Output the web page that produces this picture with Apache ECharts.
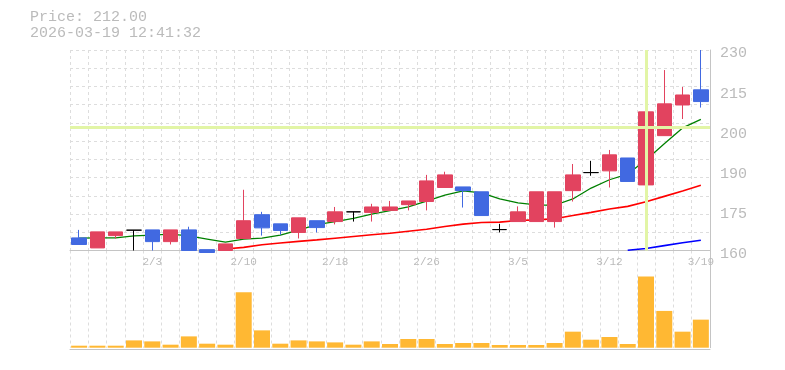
<!DOCTYPE html>
<html>
<head>
<meta charset="utf-8">
<script src="https://cdn.jsdelivr.net/npm/echarts@6/dist/echarts.min.js"></script>
<style>html,body{margin:0;padding:0;background:#fff;}#c{width:785px;height:370px;}</style>
</head>
<body>
<div id="c"></div>
<script>
const categories = ['1/28','1/29','1/30','2/2','2/3','2/4','2/5','2/6','2/9','2/10','2/12','2/13','2/16','2/17','2/18','2/19','2/20','2/24','2/25','2/26','2/27','3/2','3/3','3/4','3/5','3/6','3/9','3/10','3/11','3/12','3/13','3/16','3/17','3/18','3/19'];
const openP  = [164.4,160.9,165.2,167.1,167.2,163.1,167.2,160.3,160.0,164.2,172.5,169.3,166.3,170.4,170.1,173.5,173.3,174.0,176.0,177.1,182.0,182.2,180.5,167.3,170.1,170.1,170.1,180.9,187.2,187.8,192.3,182.9,200.1,210.8,216.1];
const closeP = [162.1,166.5,166.5,167.1,163.1,167.2,160.0,159.3,162.3,170.4,167.9,167.0,171.4,168.0,173.5,173.5,175.2,175.2,177.3,184.3,186.4,180.9,172.2,167.3,173.5,180.5,180.5,186.4,187.2,193.4,184.1,208.4,211.2,214.3,212.0];
const lowP   = [162.1,160.9,164.2,160.0,160.0,162.1,160.0,159.3,160.0,164.2,165.2,165.5,164.2,166.3,169.1,170.1,170.1,174.0,174.0,174.0,182.0,175.0,172.2,166.3,170.1,170.1,168.0,177.1,186.1,182.0,184.1,182.9,200.1,205.9,209.9];
const highP  = [167.2,166.5,166.5,167.1,167.2,167.2,168.3,160.3,162.3,181.2,173.5,169.3,171.4,170.4,175.2,173.5,176.3,177.3,177.3,186.4,187.5,182.2,180.5,169.3,175.4,180.5,180.5,190.2,191.3,195.1,192.3,216.1,223.0,217.1,230.0];
const maShort = [164.3,164.4,164.4,165.1,165.4,165.7,165.1,164.0,162.9,164.0,164.3,165.4,167.1,169.0,170.1,171.2,172.7,173.9,175.2,177.2,179.3,180.8,180.1,178.0,176.6,175.9,175.8,178.0,181.8,184.7,186.7,191.6,197.3,202.8,205.8];
const maMid = ['-','-','-','-','-','-','-','-',160.5,161.1,162.0,162.6,163.2,163.7,164.3,164.9,165.5,166.0,166.7,167.4,168.4,169.2,169.8,169.9,170.5,170.7,171.1,172.2,173.3,174.5,175.4,177.0,178.9,180.8,182.8];
const maLong = ['-','-','-','-','-','-','-','-','-','-','-','-','-','-','-','-','-','-','-','-','-','-','-','-','-','-','-','-','-','-',160.1,160.7,161.7,162.7,163.6];
const volume = [20,20,20,73,63,30,113,40,30,553,173,40,73,63,53,30,63,37,87,87,37,47,47,27,27,27,47,160,80,107,37,710,367,160,280];
const xTickLabels = ['2/3','2/10','2/18','2/26','3/5','3/12','3/19'];
const yTickLabels = ['160','175','190','200','215','230'];
const crossX = '3/16';
const crossY = 203.1;
const stamp = '2026-03-19 12:41:32';

const FONT = '"Liberation Mono", "DejaVu Sans Mono", monospace';
const GRAY = '#bbbbbb';
const GRIDC = '#dddddd';
const AXISC = '#c4c4c4';

const candleData = categories.map((c, i) => [openP[i], closeP[i], lowP[i], highP[i]]);

const chart = echarts.init(document.getElementById('c'), null, {renderer: 'canvas'});
chart.setOption({
  animation: false,
  backgroundColor: '#ffffff',
  title: {
    text: 'Price: ' + closeP[closeP.length - 1].toFixed(2) + '\n' + stamp,
    left: 30, top: 9, padding: 0,
    textStyle: {fontFamily: FONT, fontSize: 15, fontWeight: 'normal', color: GRAY, lineHeight: 16}
  },
  grid: [
    {left: 70, right: 75, top: 50, height: 200.5},
    {left: 70, right: 75, top: 250.5, height: 97.2}
  ],
  xAxis: [
    {type: 'category', gridIndex: 0, data: categories, boundaryGap: true,
     axisLine: {show: true, onZero: false, lineStyle: {color: AXISC, width: 1}},
     axisTick: {show: false, interval: 0}, axisLabel: {show: false, interval: 0},
     splitLine: {show: true, interval: 0, lineStyle: {color: GRIDC, type: [3, 3], width: 1}}},
    {type: 'category', gridIndex: 1, data: categories, boundaryGap: true, position: 'top',
     axisLine: {show: false, onZero: false}, axisTick: {show: false, interval: 0},
     axisLabel: {show: true, inside: true, margin: 6, fontFamily: FONT, fontSize: 11, color: GRAY,
                 interval: (i, v) => xTickLabels.indexOf(v) >= 0},
     splitLine: {show: true, interval: 0, lineStyle: {color: GRIDC, type: [3, 3], width: 1}}},
    {type: 'category', gridIndex: 1, data: categories, boundaryGap: true, position: 'bottom', offset: 2,
     axisLine: {show: true, onZero: false, lineStyle: {color: AXISC, width: 1}},
     axisTick: {show: false}, axisLabel: {show: false}, splitLine: {show: false}}
  ],
  yAxis: [
    {type: 'value', gridIndex: 0, min: 160, max: 230, position: 'right', scale: true,
     axisLine: {show: true, lineStyle: {color: AXISC, width: 1}}, axisTick: {show: false},
     axisLabel: {show: false}, splitLine: {show: false}},
    {type: 'value', gridIndex: 0, min: 0, max: 5, interval: 1, position: 'right',
     axisLine: {show: false}, axisTick: {show: false}, splitLine: {show: false},
     axisLabel: {show: true, margin: 10, fontFamily: FONT, fontSize: 15, color: GRAY,
                 verticalAlign: 'top', lineHeight: 7,
                 formatter: v => yTickLabels[Math.round(v)]}},
    {type: 'value', gridIndex: 0, min: 0, max: 11, interval: 1, position: 'left',
     axisLine: {show: false}, axisTick: {show: false}, axisLabel: {show: false},
     splitLine: {show: true, lineStyle: {color: GRIDC, type: [3, 3], width: 1}}},
    {type: 'value', gridIndex: 1, min: 0, max: 970, position: 'right',
     axisLine: {show: true, lineStyle: {color: AXISC, width: 1}}, axisTick: {show: false},
     axisLabel: {show: false}, splitLine: {show: false}}
  ],
  series: [
    {type: 'line', xAxisIndex: 0, yAxisIndex: 0, data: [], z: 1, silent: true,
     markLine: {silent: true, symbol: 'none', animation: false, label: {show: false},
                lineStyle: {color: '#e2f5a6', width: 3, type: 'solid'},
                data: [{xAxis: crossX}, {yAxis: crossY}]}},
    {type: 'line', name: 'MA75', xAxisIndex: 0, yAxisIndex: 0, data: maLong, symbol: 'none', z: 2,
     lineStyle: {color: '#0000ff', width: 1.6}},
    {type: 'line', name: 'MA25', xAxisIndex: 0, yAxisIndex: 0, data: maMid, symbol: 'none', z: 2,
     lineStyle: {color: '#ff0000', width: 1.6}},
    {type: 'line', name: 'MA5', xAxisIndex: 0, yAxisIndex: 0, data: maShort, symbol: 'none', z: 2,
     lineStyle: {color: '#008000', width: 1.3}},
    {type: 'candlestick', xAxisIndex: 0, yAxisIndex: 0, data: candleData, barWidth: 15, z: 3, clip: false,
     itemStyle: {color: '#e2435f', color0: '#4169e1', borderColor: '#e2435f', borderColor0: '#4169e1',
                 borderColorDoji: '#000000', borderWidth: 1}},
    {type: 'bar', xAxisIndex: 1, yAxisIndex: 3, data: volume, barWidth: 16,
     itemStyle: {color: '#ffb833'}}
  ]
});
</script>
</body>
</html>
